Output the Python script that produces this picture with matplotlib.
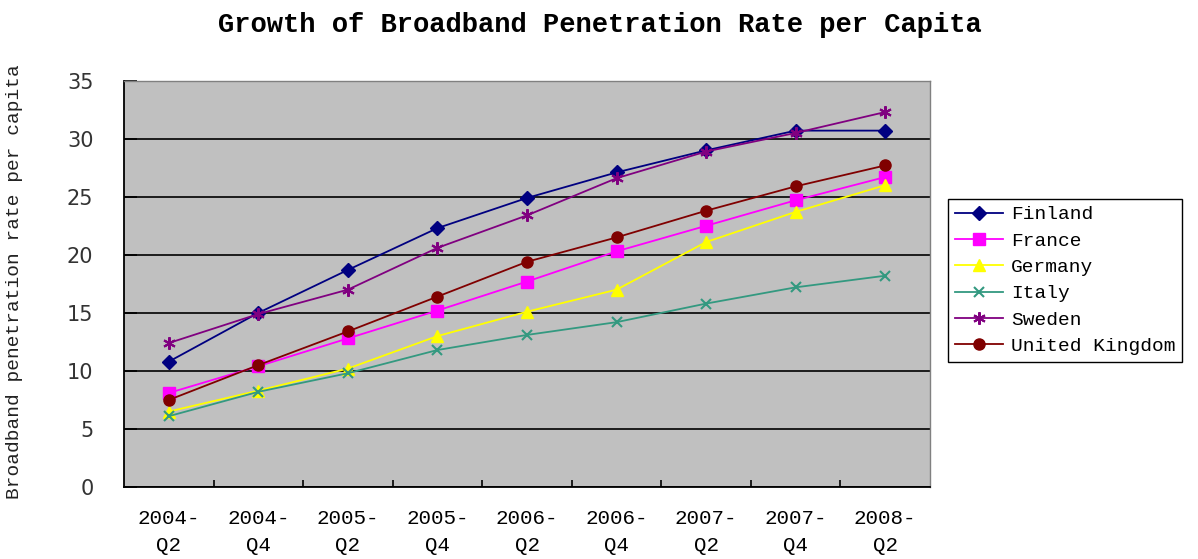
import numpy as np
import matplotlib
matplotlib.use("Agg")
import matplotlib.pyplot as plt
from matplotlib.ticker import FixedLocator, NullFormatter

quarters = ["2004-\nQ2", "2004-\nQ4", "2005-\nQ2", "2005-\nQ4", "2006-\nQ2",
            "2006-\nQ4", "2007-\nQ2", "2007-\nQ4", "2008-\nQ2"]

finland = [10.8, 15.0, 18.7, 22.3, 24.9, 27.1, 29.0, 30.7, 30.7]
france = [8.1, 10.4, 12.8, 15.2, 17.7, 20.3, 22.5, 24.7, 26.7]
germany = [6.5, 8.3, 10.2, 13.0, 15.1, 17.0, 21.1, 23.7, 26.0]
italy = [6.1, 8.2, 9.8, 11.8, 13.1, 14.2, 15.8, 17.2, 18.2]
sweden = [12.4, 14.9, 17.0, 20.6, 23.4, 26.6, 28.9, 30.5, 32.3]
uk = [7.5, 10.5, 13.4, 16.4, 19.4, 21.5, 23.8, 25.9, 27.7]

series = [
    ("Finland", finland, "#000080", "D", 7),
    ("France", france, "#FF00FF", "s", 9),
    ("Germany", germany, "#FFFF00", "^", 9),
    ("Italy", italy, "#339980", "x", 7),
    ("Sweden", sweden, "#800080", (6, 2, 0), 9),
    ("United Kingdom", uk, "#800000", "o", 8),
]

mono = "Liberation Mono"

fig = plt.figure(figsize=(11.98, 5.59), dpi=100)
W, H = 1198, 559
ax = fig.add_axes([124 / W, (H - 487) / H, (930 - 124) / W, (487 - 80.7) / H])
ax.set_facecolor("#C0C0C0")

x = np.arange(len(quarters))
for name, vals, color, marker, ms in series:
    ax.plot(x, vals, color=color, marker=marker, markersize=ms, linewidth=1.3,
            markeredgewidth=1.5 if marker in ("x", (6, 2, 0)) else 1.0,
            label=name)

ax.set_xlim(-0.5, len(quarters) - 0.5)
ax.set_ylim(0, 35)
ax.set_yticks(np.arange(0, 36, 5))
ax.yaxis.grid(True, color="black", linewidth=1.2)
ax.set_axisbelow(True)

# category labels at centres, tick marks between categories
ax.set_xticks(x)
ax.set_xticklabels(quarters, fontfamily=mono, fontsize=15, linespacing=1.5)
ax.tick_params(axis="x", which="major", length=0, pad=16)
ax.xaxis.set_minor_locator(FixedLocator(np.arange(0.5, len(quarters) - 1, 1)))
ax.xaxis.set_minor_formatter(NullFormatter())
ax.tick_params(axis="x", which="minor", direction="in", length=5, width=1.2)
ax.tick_params(axis="y", direction="in", length=9, width=1.2, pad=22,
               labelsize=15, labelcolor="#333333")

for side in ("left", "bottom"):
    ax.spines[side].set_color("black")
    ax.spines[side].set_linewidth(1.3)
for side in ("top", "right"):
    ax.spines[side].set_color("#808080")
    ax.spines[side].set_linewidth(1.0)

fig.text(15 / W, 1 - 282 / H, "Broadband penetration rate per capita",
         rotation=90, ha="center", va="center", fontfamily=mono, fontsize=14,
         color="#222222")
fig.text(600 / W, 1 - 25 / H, "Growth of Broadband Penetration Rate per Capita",
         ha="center", va="center", fontfamily=mono, fontsize=19.5, fontweight="bold")

leg = fig.legend(loc="upper left", bbox_to_anchor=(948 / W, 1 - 199 / H),
                 bbox_transform=fig.transFigure, borderaxespad=0,
                 prop={"family": mono, "size": 14}, handlelength=2.5,
                 handletextpad=0.4, labelspacing=0.45, borderpad=0.35,
                 fancybox=False, framealpha=1, edgecolor="black")
leg.get_frame().set_linewidth(1.0)

fig.savefig("out.png", dpi=100)
